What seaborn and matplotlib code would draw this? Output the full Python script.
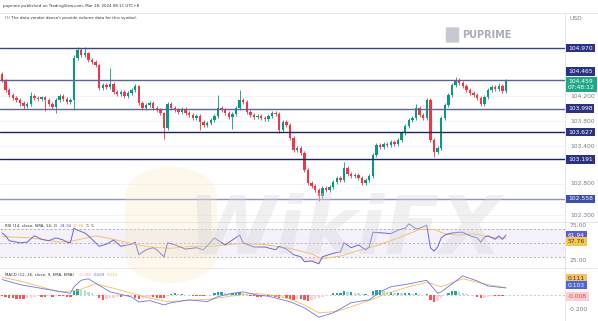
import numpy as np
import pandas as pd
import matplotlib
matplotlib.use("Agg")
import matplotlib.pyplot as plt
import matplotlib.transforms as mtransforms
from matplotlib.lines import Line2D
from matplotlib.patches import FancyBboxPatch
import seaborn as sns

# ---------------- data ----------------
first_open = 104.55
closes = [104.45,104.30,104.22,104.17,104.14,104.09,104.04,104.08,104.20,104.17,
          104.15,104.18,104.14,104.08,104.03,104.14,104.20,104.15,104.11,104.14,
          104.81,104.94,104.86,104.89,104.78,104.75,104.70,104.33,104.38,104.35,
          104.39,104.27,104.24,104.27,104.20,104.25,104.30,104.36,104.09,104.01,
          104.06,104.09,104.01,103.98,103.93,103.69,104.08,104.01,103.98,103.95,
          104.00,103.93,103.90,103.85,103.88,103.79,103.74,103.77,103.82,103.88,
          104.01,103.98,103.93,103.87,103.92,104.01,104.14,104.11,103.95,103.90,
          103.87,103.88,103.85,103.84,103.88,103.93,103.92,103.66,103.79,103.74,
          103.53,103.34,103.37,103.29,103.02,102.81,102.77,102.70,102.61,102.73,
          102.70,102.75,102.83,102.89,102.86,103.05,102.96,102.93,102.94,102.89,
          102.81,102.86,102.93,103.26,103.42,103.39,103.44,103.42,103.47,103.44,
          103.50,103.61,103.72,103.82,103.85,104.01,103.90,103.85,104.14,103.50,
          103.31,103.37,103.85,104.06,104.22,104.38,104.46,104.41,104.36,104.30,
          104.25,104.22,104.17,104.08,104.19,104.30,104.35,104.32,104.36,104.28,
          104.46]
highs = [104.59,104.48,104.33,104.25,104.20,104.17,104.12,104.11,104.27,104.23,
         104.20,104.21,104.21,104.17,104.10,104.17,104.24,104.23,104.18,104.17,
         104.86,104.99,104.97,104.99,104.91,104.81,104.78,104.72,104.41,104.41,
         104.65,104.42,104.30,104.30,104.30,104.28,104.33,104.39,104.38,104.12,
         104.09,104.12,104.12,104.04,104.01,103.95,104.11,104.11,104.04,104.01,
         104.03,104.03,103.96,103.93,103.91,103.91,103.82,103.80,103.85,103.91,
         104.22,104.04,104.01,103.96,103.95,104.04,104.30,104.17,104.14,103.98,
         103.93,103.91,103.91,103.88,103.91,103.96,103.96,103.95,103.82,103.82,
         103.77,103.56,103.40,103.40,103.32,103.05,102.84,102.80,102.73,102.76,
         102.76,102.78,102.86,102.92,102.92,103.15,103.08,102.99,102.97,102.97,
         102.92,102.89,102.96,103.29,103.45,103.45,103.47,103.47,103.50,103.50,
         103.53,103.64,103.75,103.85,103.88,104.07,104.04,103.93,104.17,104.17,
         103.53,103.40,103.88,104.09,104.25,104.41,104.50,104.49,104.44,104.39,
         104.33,104.28,104.25,104.20,104.22,104.33,104.38,104.38,104.41,104.39,
         104.48]
lows = [104.42,104.27,104.19,104.14,104.10,104.05,104.00,104.01,104.05,104.14,
        104.12,104.12,103.96,104.05,104.00,103.93,104.11,104.12,104.08,104.07,
        103.98,104.78,104.83,104.83,104.75,104.72,104.67,104.30,104.30,104.32,
        104.32,104.24,104.20,104.21,104.17,104.17,104.22,104.27,104.06,103.98,
        103.98,104.03,103.98,103.95,103.90,103.52,103.66,103.98,103.95,103.92,
        103.92,103.90,103.87,103.82,103.82,103.66,103.71,103.71,103.74,103.79,
        103.85,103.95,103.90,103.84,103.68,103.89,103.98,104.08,103.92,103.87,
        103.84,103.84,103.82,103.81,103.81,103.85,103.89,103.62,103.63,103.71,
        103.50,103.31,103.31,103.26,102.99,102.78,102.74,102.67,102.52,102.58,
        102.67,102.67,102.72,102.80,102.83,102.83,102.93,102.90,102.90,102.86,
        102.78,102.78,102.83,102.90,103.23,103.36,103.36,103.39,103.39,103.41,
        103.41,103.47,103.58,103.69,103.79,103.82,103.87,103.82,103.82,103.47,
        103.23,103.28,103.34,103.82,104.03,104.19,104.35,104.38,104.33,104.27,
        104.22,104.19,104.14,104.04,104.05,104.16,104.27,104.29,104.29,104.25,
        104.25]

level_values = [104.970, 104.465, 103.998, 103.627, 103.191, 102.558]
level_labels = ["104.970", "104.465", "103.998", "103.627", "103.191", "102.558"]
price_tick_values = [104.200, 103.800, 103.400, 102.800, 102.300]
price_tick_labels = ["104.200", "103.800", "103.400", "102.800", "102.300"]
last_price_label = "104.459"
countdown_label = "07:48:12"

rsi_idx = [0,1,2,5,7,9,11,13,15,17,18,19,20,21,23,24,27,29,31,33,
           36,37,38,40,42,43,45,46,48,51,54,56,59,62,66,67,70,73,76,77,
           79,81,83,84,86,88,89,92,94,95,97,99,101,102,103,106,108,110,112,113,
           115,116,118,119,120,121,122,123,125,127,128,130,132,133,134,135,137,138,139,140]
rsi_val = [65,61,54,51,52,61,56,54,58,55,52,51,72,69,65,61,46,49,55,46,
           49,52,34,41,44,41,31,51,48,42,44,41,58,48,62,51,45,45,41,46,
           42,34,31,24,25,21,31,36,38,51,44,48,41,45,66,65,64,69,72,78,
           71,72,76,44,39,45,58,62,65,66,66,61,58,52,59,61,56,61,56,61.94]
rsi_ma_idx = [0,8,16,20,26,30,36,41,47,52,58,66,72,80,86,89,94,99,104,108,
              112,116,120,123,127,131,134,137,140]
rsi_ma_val = [60,58,52,54,61,57,50,45,43,46,46,50,49,43,35,28,32,40,47,54,
              62,70,70,64,62,64,61,58,57.76]
rsi_ticks = [75, 25]
rsi_tick_labels = ["75.00", "25.00"]

macd_idx = [0,5,13,19,20,22,24,26,30,36,38,41,45,47,52,57,60,64,67,71,
            74,80,84,88,92,97,102,105,108,113,118,121,122,128,132,135,139,140]
macd_val = [0.22,0.15,0.08,0.03,0.12,0.21,0.23,0.17,0.05,-0.02,-0.09,-0.07,-0.13,-0.10,-0.06,-0.085,-0.015,0.03,0.05,0.005,
            -0.01,-0.085,-0.17,-0.30,-0.24,-0.10,-0.06,0.05,0.12,0.16,0.21,0.03,0.05,0.27,0.20,0.13,0.11,0.103]
signal_idx = [0,5,9,16,21,26,31,36,41,46,51,58,64,70,75,80,84,88,93,97,
              102,107,113,118,122,128,134,139,140]
signal_val = [0.25,0.20,0.145,0.05,0.07,0.16,0.10,0.03,-0.035,-0.085,-0.07,-0.05,-0.007,0.03,0.005,-0.05,-0.13,-0.24,-0.22,-0.155,
              -0.07,0.03,0.12,0.18,0.12,0.23,0.16,0.115,0.111]
hist = [-0.01,-0.02,-0.03,-0.04,-0.05,-0.05,-0.05,-0.04,-0.03,-0.02,
        -0.01,-0.02,-0.02,-0.01,-0.02,-0.01,-0.01,-0.01,-0.02,-0.02,
        0.06,0.09,0.08,0.07,0.05,0.03,0.01,-0.04,-0.06,-0.05,
        -0.04,-0.03,-0.02,-0.02,-0.01,-0.01,0.00,-0.03,-0.05,-0.04,
        -0.03,-0.02,-0.02,-0.03,-0.04,-0.04,0.01,0.02,0.03,0.02,
        0.02,0.01,0.00,-0.01,-0.01,-0.01,-0.01,0.00,0.01,0.03,
        0.05,0.05,0.04,0.03,0.03,0.04,0.05,0.04,0.02,-0.01,
        -0.01,-0.02,-0.02,-0.01,-0.01,-0.01,-0.02,-0.04,-0.03,-0.04,
        -0.05,-0.06,-0.05,-0.05,-0.06,-0.07,-0.06,-0.05,-0.04,-0.02,
        -0.01,0.01,0.03,0.04,0.04,0.06,0.05,0.05,0.04,0.03,
        0.02,0.02,0.01,0.06,0.08,0.08,0.06,0.05,0.05,0.04,
        0.04,0.03,0.03,0.03,0.02,0.04,0.02,0.01,0.02,-0.06,
        -0.09,-0.08,-0.04,0.01,0.04,0.06,0.06,0.05,0.04,0.02,
        0.01,0.00,-0.02,-0.04,-0.03,-0.02,-0.01,-0.01,-0.01,-0.01,
        -0.008]
macd_ticks = [-0.2]
macd_tick_labels = ["-0.200"]

# ---------------- style ----------------
sns.set_theme(style="white")
plt.rcParams["font.family"] = ["DejaVu Sans"]

UP, DOWN = "#089981", "#f23645"
GRID = "#e0e3eb"
TICK_TXT = "#787b86"

W, H = 598, 321
fig = plt.figure(figsize=(W / 100, H / 100), dpi=100)
fig.patch.set_facecolor("white")

def fx(px):
    return px / W

def fy(py):
    return 1 - py / H

PR = 565  # right edge of plot area in px
ax_main = fig.add_axes([0, fy(222), PR / W, (222 - 13) / H])
ax_rsi = fig.add_axes([0, fy(268), PR / W, (268 - 222) / H])
ax_macd = fig.add_axes([0, 0, PR / W, (H - 268) / H])

X_LEFT, X_RIGHT = -2 / 3.6, (PR - 2) / 3.6

# ---------------- main price panel ----------------
n = len(closes)
idx = np.arange(n)
c = np.array(closes)
o = np.array([first_open] + closes[:-1])
colors = np.where(c >= o, UP, DOWN)

for v in price_tick_values:
    ax_main.axhline(v, color="#f0f3fa", lw=0.6, zorder=0)

ax_main.vlines(idx, lows, highs, colors=colors, lw=0.6, zorder=3)
ax_main.bar(idx, np.maximum(np.abs(c - o), 0.008), bottom=np.minimum(c, o),
            width=0.62, color=colors, linewidth=0, zorder=4)

line_cols = ["#3a4391", "#5b639f", "#5b639f", "#1c2266", "#1c2266", "#8a93c8"]
box_cols = ["#2b3285", "#2b3285", "#2b3285", "#2b3285", "#2b3285", "#3f4db0"]
for v, lc in zip(level_values, line_cols):
    ax_main.axhline(v, color=lc, lw=1.0, zorder=5)

ax_main.set_ylim(102.19, 105.53)

# ---------------- RSI panel ----------------
ax_rsi.axhspan(30, 70, color="#7e57c2", alpha=0.08, lw=0, zorder=0)
for lv in (70, 50, 30):
    ax_rsi.axhline(lv, color="#9598a1", lw=0.5, ls=(0, (3, 3)), zorder=1)
rv = np.array(rsi_val, dtype=float)
ax_rsi.fill_between(rsi_idx, rv, 30, where=rv < 30, interpolate=True,
                    color="#f23645", alpha=0.15, lw=0, zorder=1)
sns.lineplot(x=rsi_ma_idx, y=rsi_ma_val, ax=ax_rsi, color="#f5c25e", lw=0.7, zorder=2)
sns.lineplot(x=rsi_idx, y=rsi_val, ax=ax_rsi, color="#6a66d6", lw=0.7, zorder=3)
ax_rsi.set_ylim(15, 80.7)

# ---------------- MACD panel ----------------
hcols = []
prev = 0.0
for h in hist:
    if h >= 0:
        hcols.append("#26a69a" if h >= prev else "#b2dfdb")
    else:
        hcols.append("#ff5252" if h <= prev else "#ffcdd2")
    prev = h
ax_macd.axhline(0, color="#b2b5be", lw=0.5, ls=(0, (3, 3)), zorder=0)
ax_macd.bar(idx, hist, width=0.62, color=hcols, linewidth=0, zorder=1)
sns.lineplot(x=macd_idx, y=macd_val, ax=ax_macd, color="#6877e6", lw=0.6, zorder=3)
sns.lineplot(x=signal_idx, y=signal_val, ax=ax_macd, color="#f5bd55", lw=0.6, zorder=2)
ax_macd.set_ylim(-0.352, 0.379)

for ax in (ax_main, ax_rsi, ax_macd):
    ax.set_xlim(X_LEFT, X_RIGHT)
    ax.set_xticks([])
    ax.set_yticks([])
    ax.set_xlabel("")
    ax.set_ylabel("")
    for s in ax.spines.values():
        s.set_visible(False)
    ax.set_facecolor("none")

# ---------------- right scale labels ----------------
FS = 4.3

def side_label(ax, yval, text, fc=None, tc=TICK_TXT, dy=0, x_px=568):
    tr = mtransforms.blended_transform_factory(ax.transAxes, ax.transData)
    tr = mtransforms.offset_copy(tr, fig=fig, x=0, y=-dy, units="dots")
    kw = {}
    if fc is not None:
        kw["bbox"] = dict(boxstyle="square,pad=0.32", fc=fc, ec="none")
    ax.text(x_px / PR, yval, text, transform=tr, ha="left", va="center",
            fontsize=FS, color=tc, clip_on=False, zorder=20, **kw)

for v, t in zip(price_tick_values, price_tick_labels):
    side_label(ax_main, v, t, x_px=570)
level_dy = [0, -8, 0, 0, 0, 0]
for v, t, bc, d in zip(level_values, level_labels, box_cols, level_dy):
    side_label(ax_main, v, t, fc=bc, tc="white", dy=d)
side_label(ax_main, 104.459, last_price_label + "\n" + countdown_label,
           fc="#1fa987", tc="white", dy=4.5)

for v, t in zip(rsi_ticks, rsi_tick_labels):
    side_label(ax_rsi, v, t, x_px=570)
side_label(ax_rsi, 61.94, "61.94", fc="#5b5bd6", tc="white")
side_label(ax_rsi, 57.76, "57.76", fc="#f7c948", tc="#333333", dy=3.5)

for v, t in zip(macd_ticks, macd_tick_labels):
    side_label(ax_macd, v, t, x_px=569)
side_label(ax_macd, 0.111, "0.111", fc="#f7c35a", tc="#333333", dy=-9)
side_label(ax_macd, 0.103, "0.103", fc="#4a63e8", tc="white", dy=-3)
side_label(ax_macd, -0.008, "-0.008", fc="#fbd0d3", tc="#e53946", dy=0.5)

# ---------------- separators ----------------
for yy in (13, 222, 268):
    fig.add_artist(Line2D([0, 1], [fy(yy), fy(yy)], color=GRID, lw=0.6))
fig.add_artist(Line2D([fx(PR), fx(PR)], [fy(13), 0], color=GRID, lw=0.6))

# ---------------- header / legends ----------------
HF = 2.9
fig.text(fx(3), fy(6.5), "puprime published on TradingView.com, Mar 28, 2024 08:11 UTC+8",
         fontsize=HF, color="#333333", va="center", ha="left")
fig.text(fx(5), fy(17.5), "(!) The data vendor doesn't provide volume data for this symbol.",
         fontsize=HF, color="#333333", va="center", ha="left")
fig.text(fx(570), fy(18), "USD", fontsize=FS, color=TICK_TXT, va="center", ha="left")

fig.text(fx(5), fy(226), "RSI (14, close, SMA, 14, 2)", fontsize=HF, color="#333333", va="center")
fig.text(fx(61), fy(226), "61.94", fontsize=HF, color="#5b5bd6", va="center")
fig.text(fx(73), fy(226), "57.76", fontsize=HF, color="#f0b429", va="center")
fig.text(fx(86), fy(226), "\u2205 \u2205", fontsize=HF, color="#666666", va="center")

fig.text(fx(5), fy(275), "MACD (12, 26, close, 9, EMA, EMA)", fontsize=HF, color="#333333", va="center")
fig.text(fx(79), fy(275), "-0.008", fontsize=HF, color="#f7a1a8", va="center")
fig.text(fx(94), fy(275), "0.103", fontsize=HF, color="#4a63e8", va="center")
fig.text(fx(107), fy(275), "0.111", fontsize=HF, color="#f0b429", va="center")

# ---------------- watermarks ----------------
fig.text(fx(462), fy(35), "PUPRIME", fontsize=7, weight="bold", color="#a9adb5", va="center", ha="left")
fig.add_artist(FancyBboxPatch((fx(447), fy(42)), fx(11), 14 / H,
                              boxstyle="round,pad=0.002", fc="#c5c9d3", ec="none",
                              transform=fig.transFigure))
fig.add_artist(FancyBboxPatch((fx(125), fy(284)), fx(92), 118 / H,
                              boxstyle="round,pad=0.0,rounding_size=0.1", fc="#f9e7b0", ec="none",
                              alpha=0.25, transform=fig.transFigure, zorder=30))
fig.text(fx(345), fy(232), "WikiFX", fontsize=58, weight="bold", style="italic",
         color="#d5d5d5", alpha=0.35, ha="center", va="center", zorder=31)

fig.savefig("out.png", dpi=100)
